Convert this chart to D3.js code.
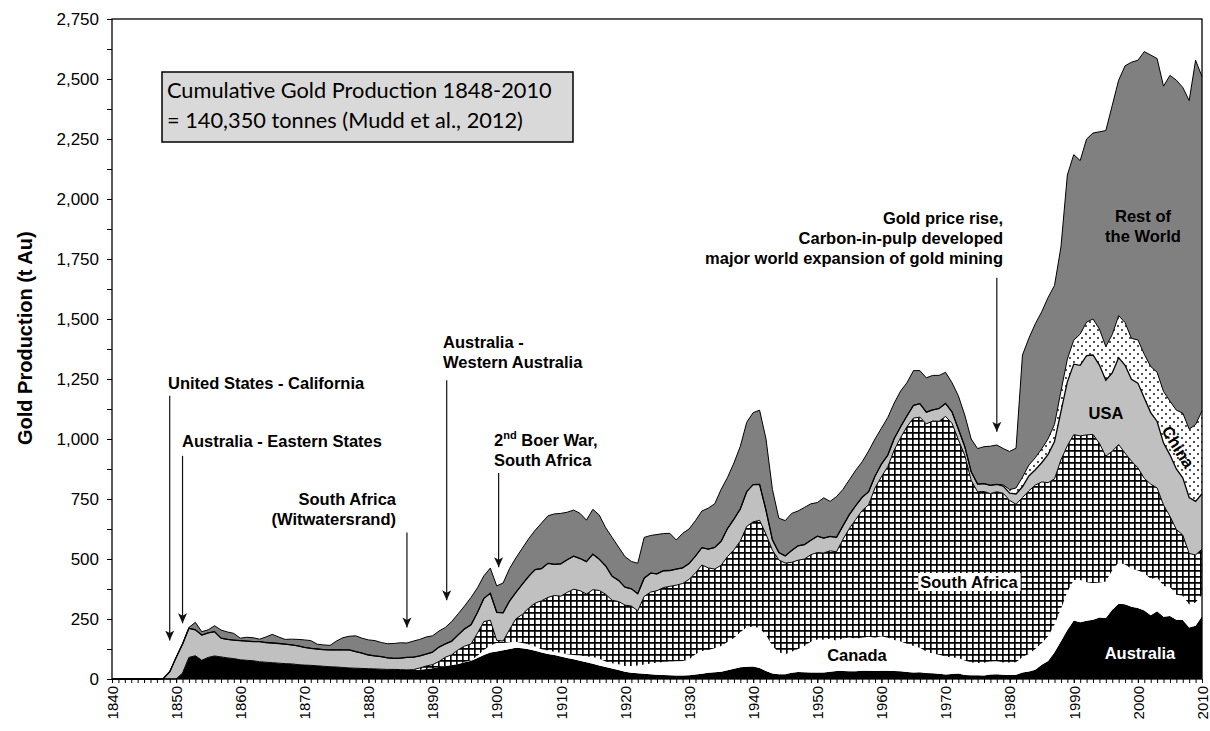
<!DOCTYPE html>
<html>
<head>
<meta charset="utf-8">
<script src="https://cdn.jsdelivr.net/npm/d3@7"></script>
<style>
  body { margin: 0; background: #fff; }
  svg { display: block; font-family: 'Liberation Sans', Arial, sans-serif; }
</style>
</head>
<body>
<svg id="chart" width="1210" height="731"></svg>
<script>
'use strict';

// yearly gold production in tonnes, 1840 .. 2010
var firstYear = 1840;
var lastYear = 2010;

var australia = [
  0, 0, 0, 0, 0, 0, 0, 0, 0, 0,
  0, 25, 90, 97, 78, 90, 96, 92, 88, 85,
  80, 78, 76, 72, 70, 68, 66, 64, 63, 60,
  58, 57, 55, 53, 51, 50, 48, 46, 45, 44,
  43, 42, 41, 40, 40, 39, 38, 38, 39, 42,
  45, 50, 54, 58, 62, 70, 76, 88, 100, 110,
  115, 120, 125, 130, 128, 124, 118, 110, 104, 100,
  94, 88, 82, 76, 70, 64, 56, 50, 44, 37,
  30, 26, 24, 22, 20, 18, 17, 16, 15, 15,
  16, 19, 22, 26, 28, 30, 36, 43, 49, 51,
  52, 46, 33, 23, 20, 20, 26, 29, 28, 27,
  27, 27, 30, 33, 33, 32, 32, 34, 34, 33,
  34, 34, 33, 32, 29, 27, 28, 25, 24, 22,
  19, 21, 23, 17, 16, 16, 15, 19, 20, 18,
  17, 18, 27, 31, 39, 59, 75, 111, 157, 204,
  244, 236, 243, 247, 256, 254, 289, 314, 311, 301,
  296, 285, 266, 282, 259, 263, 247, 246, 215, 222,
  261
];

var canada = [
  0, 0, 0, 0, 0, 0, 0, 0, 0, 0,
  0, 0, 0, 0, 0, 0, 0, 0, 0, 0,
  0, 0, 0, 0, 0, 0, 0, 0, 0, 0,
  0, 0, 0, 0, 0, 0, 0, 0, 0, 0,
  0, 0, 0, 0, 0, 0, 0, 0, 0, 0,
  0, 0, 0, 0, 0, 1, 2, 9, 21, 30,
  35, 30, 28, 25, 22, 20, 17, 14, 15, 14,
  15, 15, 18, 22, 24, 28, 28, 23, 22, 24,
  24, 28, 32, 38, 45, 50, 54, 57, 59, 60,
  65, 84, 95, 95, 100, 108, 118, 128, 146, 165,
  166, 166, 150, 114, 91, 83, 88, 96, 110, 128,
  138, 137, 138, 126, 136, 141, 136, 138, 142, 139,
  144, 138, 129, 124, 118, 110, 102, 90, 82, 79,
  75, 69, 65, 60, 53, 51, 53, 54, 54, 51,
  52, 52, 65, 73, 86, 90, 103, 116, 135, 160,
  169, 176, 160, 153, 146, 152, 164, 171, 166, 158,
  156, 157, 151, 141, 129, 120, 104, 101, 95, 97,
  91
];

var southAfrica = [
  0, 0, 0, 0, 0, 0, 0, 0, 0, 0,
  0, 0, 0, 0, 0, 0, 0, 0, 0, 0,
  0, 0, 0, 0, 0, 0, 0, 0, 0, 0,
  0, 0, 0, 0, 0, 0, 0, 0, 0, 0,
  0, 0, 0, 0, 0, 0, 0, 1, 7, 12,
  15, 23, 37, 43, 60, 66, 68, 94, 118, 105,
  11, 8, 53, 96, 119, 152, 181, 202, 221, 234,
  236, 258, 274, 270, 260, 280, 285, 280, 262, 262,
  254, 250, 228, 284, 297, 300, 310, 313, 317, 323,
  334, 339, 358, 342, 330, 336, 356, 367, 380, 420,
  437, 449, 420, 400, 385, 380, 372, 370, 362, 363,
  362, 361, 366, 371, 413, 454, 497, 530, 550, 624,
  665, 713, 792, 850, 905, 950, 961, 948, 969, 973,
  1000, 976, 909, 855, 759, 713, 713, 700, 706, 705,
  675, 658, 664, 680, 683, 672, 640, 607, 621, 608,
  605, 601, 614, 619, 580, 522, 496, 492, 464, 449,
  428, 394, 395, 373, 337, 295, 272, 253, 213, 198,
  189
];

var usa = [
  0, 0, 0, 0, 0, 0, 0, 0, 2, 30,
  90, 120, 121, 108, 105, 102, 101, 78, 77, 77,
  80, 80, 80, 84, 82, 82, 82, 81, 79, 78,
  74, 71, 70, 69, 70, 71, 73, 75, 69, 64,
  57, 54, 52, 48, 46, 48, 52, 52, 50, 50,
  52, 60, 55, 57, 62, 72, 80, 86, 97, 112,
  117, 118, 119, 110, 126, 132, 140, 134, 142, 130,
  135, 136, 138, 134, 135, 148, 130, 118, 100, 88,
  75, 72, 71, 76, 79, 70, 70, 66, 67, 65,
  66, 70, 72, 78, 90, 100, 117, 128, 134, 145,
  155, 150, 100, 43, 31, 30, 49, 60, 60, 60,
  68, 62, 60, 60, 56, 58, 57, 55, 54, 49,
  52, 48, 48, 45, 45, 53, 56, 49, 46, 53,
  54, 47, 45, 37, 35, 32, 33, 34, 31, 30,
  30, 43, 45, 62, 64, 80, 118, 155, 201, 266,
  294, 294, 330, 331, 326, 317, 326, 362, 366, 341,
  353, 335, 298, 277, 258, 256, 252, 238, 233, 223,
  231
];

var china = [
  0, 0, 0, 0, 0, 0, 0, 0, 0, 0,
  0, 0, 0, 0, 0, 0, 0, 0, 0, 0,
  0, 0, 0, 0, 0, 0, 0, 0, 0, 0,
  0, 0, 0, 0, 0, 0, 0, 0, 0, 0,
  0, 0, 0, 0, 0, 0, 0, 0, 0, 0,
  0, 0, 0, 0, 0, 0, 0, 0, 0, 0,
  0, 0, 0, 0, 0, 0, 0, 0, 0, 0,
  0, 0, 0, 0, 0, 0, 0, 0, 0, 0,
  0, 0, 0, 0, 0, 0, 0, 0, 0, 0,
  0, 0, 0, 0, 0, 0, 0, 0, 0, 0,
  0, 0, 0, 0, 0, 0, 0, 0, 0, 0,
  0, 0, 0, 0, 0, 0, 0, 0, 0, 0,
  0, 0, 0, 0, 0, 0, 0, 0, 0, 0,
  0, 0, 0, 0, 0, 0, 0, 0, 0, 5,
  15, 25, 40, 45, 50, 58, 65, 72, 85, 95,
  100, 130, 140, 150, 150, 140, 160, 175, 178, 170,
  180, 182, 192, 205, 215, 224, 245, 270, 285, 320,
  345
];

var restOfWorld = [
  0, 0, 0, 0, 0, 0, 0, 0, 0, 0,
  0, 3, 4, 31, 14, 13, 25, 34, 31, 28,
  10, 16, 16, 10, 23, 36, 27, 20, 24, 27,
  31, 32, 20, 20, 19, 37, 51, 57, 66, 62,
  63, 64, 59, 59, 62, 64, 60, 67, 69, 71,
  68, 67, 69, 82, 88, 96, 114, 103, 94, 105,
  110, 124, 135, 144, 150, 157, 164, 190, 198, 210,
  210, 198, 192, 188, 173, 187, 184, 159, 162, 139,
  127, 114, 127, 170, 157, 164, 155, 155, 121, 144,
  144, 148, 153, 171, 182, 216, 213, 234, 261, 289,
  300, 309, 297, 210, 143, 147, 155, 145, 155, 152,
  140, 168, 146, 170, 152, 145, 148, 148, 170, 155,
  150, 157, 148, 149, 138, 145, 138, 143, 144, 138,
  130, 122, 138, 131, 137, 148, 154, 163, 164, 151,
  159, 166, 509, 529, 558, 571, 589, 579, 601, 767,
  773, 723, 763, 775, 822, 900, 955, 981, 1070, 1151,
  1165, 1261, 1298, 1307, 1272, 1357, 1375, 1357, 1369, 1518,
  1393
];

var seriesKeys = ['australia', 'canada', 'southAfrica', 'usa', 'china', 'restOfWorld'];
var yTickValues = [0, 250, 500, 750, 1000, 1250, 1500, 1750, 2000, 2250, 2500, 2750];
var xLabelYears = [1840, 1850, 1860, 1870, 1880, 1890, 1900, 1910, 1920, 1930,
  1940, 1950, 1960, 1970, 1980, 1990, 2000, 2010];

var seriesFill = {
  australia: '#000',
  canada: '#fff',
  southAfrica: 'url(#crosshatch)',
  usa: '#c0c0c0',
  china: 'url(#dots)',
  restOfWorld: '#808080'
};

var svg = d3.select('#chart');
var plot = { left: 112, right: 1202, top: 19, bottom: 679 };

var x = d3.scaleLinear().domain([firstYear, lastYear]).range([plot.left, plot.right]);
var y = d3.scaleLinear().domain([0, 2750]).range([plot.bottom, plot.top]);

var rows = d3.range(firstYear, lastYear + 1).map(function(year, i) {
  return {
    year: year,
    australia: australia[i],
    canada: canada[i],
    southAfrica: southAfrica[i],
    usa: usa[i],
    china: china[i],
    restOfWorld: restOfWorld[i]
  };
});

var stacked = d3.stack().keys(seriesKeys)(rows);

// patterns
var defs = svg.append('defs');

var hatch = defs.append('pattern')
  .attr('id', 'crosshatch')
  .attr('patternUnits', 'userSpaceOnUse')
  .attr('width', 6)
  .attr('height', 6);
hatch.append('rect').attr('width', 6).attr('height', 6).attr('fill', '#fff');
hatch.append('path')
  .attr('d', 'M0,0.8H6M0.8,0V6')
  .attr('stroke', '#000')
  .attr('stroke-width', 1.7);

var dots = defs.append('pattern')
  .attr('id', 'dots')
  .attr('patternUnits', 'userSpaceOnUse')
  .attr('width', 8)
  .attr('height', 8);
dots.append('rect').attr('width', 8).attr('height', 8).attr('fill', '#fff');
dots.append('circle').attr('cx', 2).attr('cy', 2).attr('r', 0.9).attr('fill', '#000');
dots.append('circle').attr('cx', 6).attr('cy', 6).attr('r', 0.9).attr('fill', '#000');

defs.append('marker')
  .attr('id', 'arrow')
  .attr('viewBox', '0 0 10 10')
  .attr('refX', 10)
  .attr('refY', 5)
  .attr('markerWidth', 10)
  .attr('markerHeight', 10)
  .attr('markerUnits', 'userSpaceOnUse')
  .attr('orient', 'auto')
  .append('path')
  .attr('d', 'M0,0.5L10,5L0,9.5L2.5,5Z')
  .attr('fill', '#111');

// stacked areas
var area = d3.area()
  .x(function(d) { return x(d.data.year); })
  .y0(function(d) { return y(d[0]); })
  .y1(function(d) { return y(d[1]); });

svg.append('g').selectAll('path')
  .data(stacked)
  .enter()
  .append('path')
  .attr('d', area)
  .attr('fill', function(d) { return seriesFill[d.key]; });

// outline along the top of each layer (Canada has none in the original)
var topLine = d3.line()
  .x(function(d) { return x(d.data.year); })
  .y(function(d) { return y(d[1]); });

svg.append('g').selectAll('path')
  .data(stacked.filter(function(s) { return s.key !== 'canada' && s.key !== 'australia'; }))
  .enter()
  .append('path')
  .attr('d', topLine)
  .attr('fill', 'none')
  .attr('stroke', '#000')
  .attr('stroke-width', function(d) { return d.key === 'usa' ? 1.3 : 1; });

// axes
var yAxis = svg.append('g')
  .attr('transform', 'translate(' + plot.left + ',0)')
  .call(d3.axisLeft(y).tickValues(yTickValues).tickFormat(d3.format(',')).tickSize(5).tickPadding(8));
yAxis.selectAll('text').style('font-size', '17px').attr('fill', '#000');

svg.append('g')
  .attr('transform', 'translate(' + plot.left + ',0)')
  .call(d3.axisLeft(y).tickValues(yTickValues.slice(0, -1).map(function(v) { return v + 125; }))
    .tickFormat('').tickSize(5));

svg.append('g')
  .attr('transform', 'translate(0,' + plot.bottom + ')')
  .call(d3.axisBottom(x).tickValues(d3.range(firstYear, lastYear + 1)).tickFormat('').tickSize(4));

var xAxis = svg.append('g')
  .attr('transform', 'translate(0,' + plot.bottom + ')')
  .call(d3.axisBottom(x).tickValues(xLabelYears).tickFormat(d3.format('d')).tickSize(4));
xAxis.selectAll('text')
  .attr('transform', 'rotate(-90)')
  .attr('x', -7)
  .attr('y', 0)
  .attr('dy', '0.35em')
  .style('text-anchor', 'end')
  .style('font-size', '15px')
  .attr('fill', '#000');

svg.selectAll('.domain').remove();
svg.selectAll('.tick line').attr('stroke', '#000');

svg.append('rect')
  .attr('x', plot.left)
  .attr('y', plot.top)
  .attr('width', plot.right - plot.left)
  .attr('height', plot.bottom - plot.top)
  .attr('fill', 'none')
  .attr('stroke', '#000')
  .attr('stroke-width', 1.3);

svg.append('text')
  .attr('transform', 'translate(32,' + y(1420) + ') rotate(-90)')
  .attr('text-anchor', 'middle')
  .style('font-size', '20px')
  .style('font-weight', 'bold')
  .text('Gold Production (t Au)');

// cumulative production box
svg.append('rect')
  .attr('x', 162)
  .attr('y', 72)
  .attr('width', 411)
  .attr('height', 70)
  .attr('fill', '#d9d9d9')
  .attr('stroke', '#000')
  .attr('stroke-width', 1.5);

var boxText = svg.append('text')
  .style('font-family', 'Lato, "Open Sans", sans-serif')
  .style('font-size', '20px');
boxText.append('tspan').attr('x', 167).attr('y', 98).text('Cumulative Gold Production 1848-2010');
boxText.append('tspan').attr('x', 167).attr('y', 128).text('= 140,350 tonnes (Mudd et al., 2012)');
var firstLen = boxText.select('tspan').node().getComputedTextLength();
boxText.style('font-size', (20 * 385 / firstLen) + 'px');

// historical annotations: lines of text plus an arrow
var notes = [
  { lines: ['United States - California'], x: 168, y: 389, anchor: 'start',
    arrow: { year: 1849, from: 1180, to: 160 } },
  { lines: ['Australia - Eastern States'], x: 182, y: 447, anchor: 'start',
    arrow: { year: 1851, from: 930, to: 232 } },
  { lines: ['South Africa', '(Witwatersrand)'], x: 396, y: 505, anchor: 'end',
    arrow: { year: 1886, from: 610, to: 215 } },
  { lines: ['Australia -', 'Western Australia'], x: 443, y: 348, anchor: 'start',
    arrow: { year: 1892.2, from: 1245, to: 328 } },
  { lines: ['Boer War,', 'South Africa'], x: 494, y: 446, anchor: 'start', boer: true,
    arrow: { year: 1900.3, from: 858, to: 466 } },
  { lines: ['Gold price rise,', 'Carbon-in-pulp developed', 'major world expansion of gold mining'],
    x: 1003, y: 224, anchor: 'end',
    arrow: { year: 1978, from: 1672, to: 1030 } }
];

var noteGroup = svg.append('g')
  .style('font-size', '16.5px')
  .style('font-weight', 'bold');

notes.forEach(function(note) {
  var t = noteGroup.append('text').attr('text-anchor', note.anchor);
  note.lines.forEach(function(line, i) {
    var span = t.append('tspan').attr('x', note.x).attr('y', note.y + i * 20);
    if (note.boer && i === 0) {
      span.text('2');
      span.append('tspan').attr('dy', -7).style('font-size', '11px').text('nd');
      span.append('tspan').attr('dy', 7).text(' ' + line);
    } else {
      span.text(line);
    }
  });
  noteGroup.append('line')
    .attr('x1', x(note.arrow.year))
    .attr('x2', x(note.arrow.year))
    .attr('y1', y(note.arrow.from))
    .attr('y2', y(note.arrow.to))
    .attr('stroke', '#111')
    .attr('stroke-width', 1.2)
    .attr('marker-end', 'url(#arrow)');
});

// series labels inside the areas
var labelGroup = svg.append('g')
  .style('font-size', '16.5px')
  .style('font-weight', 'bold')
  .attr('text-anchor', 'middle');

labelGroup.append('text').attr('x', 1143).attr('y', 222).text('Rest of');
labelGroup.append('text').attr('x', 1143).attr('y', 242).text('the World');
labelGroup.append('text').attr('x', 1106).attr('y', 419).text('USA');
labelGroup.append('text')
  .attr('transform', 'translate(1178,447) rotate(58)')
  .attr('dy', '0.35em')
  .text('China');
labelGroup.append('text').attr('x', 857).attr('y', 661).text('Canada');
labelGroup.append('text').attr('x', 1140).attr('y', 659).attr('fill', '#fff').text('Australia');

var saLabel = labelGroup.append('text').attr('x', 969).attr('y', 588).text('South Africa');
var saBox = saLabel.node().getBBox();
labelGroup.insert('rect', function() { return saLabel.node(); })
  .attr('x', saBox.x - 2)
  .attr('y', saBox.y)
  .attr('width', saBox.width + 4)
  .attr('height', saBox.height)
  .attr('fill', '#fff');
</script>
</body>
</html>
